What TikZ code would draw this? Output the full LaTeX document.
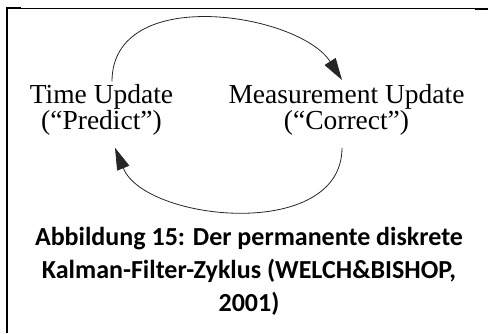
\documentclass[tikz,border=0pt]{standalone}
\usepackage{fontspec}
\setmainfont{Liberation Serif}
\newfontfamily\capfont{Carlito}
\usetikzlibrary{arrows.meta}
\tikzset{
  stage/.style={align=center,inner sep=0pt,anchor=north,font=\fontsize{27.5}{20}\selectfont},
  cycle/.style={line width=0.8pt,color=black!85,-{Triangle[length=22pt,width=13pt]}},
  caption/.style={align=center,inner sep=0pt,anchor=north,font=\capfont\bfseries\fontsize{26}{33}\selectfont},
  frame/.style={line width=2pt}
}
\begin{document}
\begin{tikzpicture}[x=1pt,y=-1pt]
  \useasboundingbox (0,0) rectangle (488,333);

  \node[stage] (tu) at (101.5,84.5) {Time Update\\(“Predict”)};
  \node[stage] (mu) at (346.5,84.5) {Measurement Update\\(“Correct”)};
  \node[caption] (cap) at (249,227.5) {Abbildung 15: Der permanente diskrete\\Kalman-Filter-Zyklus (WELCH\&BISHOP,\\2001)};

  \draw[cycle] ([shift={(10.5,-3)}]tu.north) .. controls +(0,-98) and +(-43,-67) .. ([shift={(-4.5,-4.5)}]mu.north);
  \draw[cycle] ([shift={(-4.5,12)}]mu.south) .. controls +(0,94) and +(30,74) .. ([shift={(13.5,12)}]tu.south);

  \draw[frame] (7,333) -- (7,8) -- (21,8);
  \draw[line width=1pt] (7,8.5) -- (488,8.5);
  \draw[frame] (475,9) -- (488,9);
\end{tikzpicture}
\end{document}
